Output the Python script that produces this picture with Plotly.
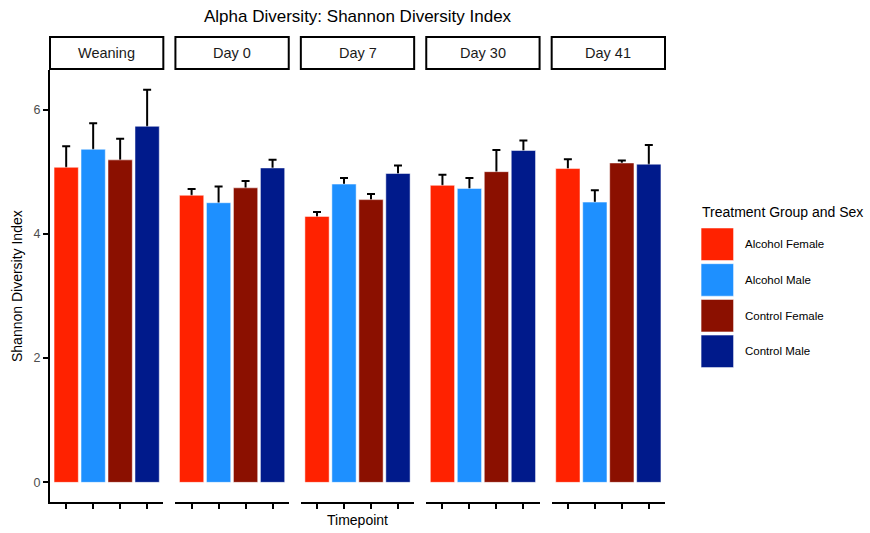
import plotly.graph_objects as go

# ---------------- data ----------------
timepoints = ["Weaning", "Day 0", "Day 7", "Day 30", "Day 41"]
groups = ["Alcohol Female", "Alcohol Male", "Control Female", "Control Male"]
colors = ["#FF2200", "#1E90FF", "#8B1000", "#001A8B"]

mean_alcohol_female = [5.07, 4.62, 4.28, 4.78, 5.05]
mean_alcohol_male = [5.36, 4.50, 4.80, 4.73, 4.51]
mean_control_female = [5.19, 4.74, 4.55, 5.00, 5.14]
mean_control_male = [5.73, 5.06, 4.97, 5.34, 5.12]

err_alcohol_female = [0.34, 0.10, 0.07, 0.17, 0.15]
err_alcohol_male = [0.42, 0.26, 0.10, 0.17, 0.19]
err_control_female = [0.34, 0.11, 0.09, 0.35, 0.04]
err_control_male = [0.59, 0.13, 0.13, 0.16, 0.31]

y_ticks = [0, 2, 4, 6]

means = [mean_alcohol_female, mean_alcohol_male, mean_control_female, mean_control_male]
errs = [err_alcohol_female, err_alcohol_male, err_control_female, err_control_male]

# ---------------- layout geometry (page px) ----------------
W, H = 870, 533
pitch, pwidth = 125.5, 113.4
PL, PT, PB = 50, 70, 502          # page px of plot area left / top / bottom
ML, MT = PL, PT
MB = H - PB
PW = 4 * pitch + pwidth
MR = W - ML - PW
PH = H - MT - MB
HIDE = 0.05  # error bar stem starts slightly inside the bar so its lower cap is hidden


def px_x(px):
    return (px - PL) / PW


def px_y(py):
    return (PB - py) / PH


FONT = "Liberation Sans, Arial, sans-serif"

fig = go.Figure()
layout = dict(
    width=W, height=H,
    margin=dict(l=ML, r=MR, t=MT, b=MB, autoexpand=False),
    plot_bgcolor="white", paper_bgcolor="white",
    showlegend=False,
    font=dict(family=FONT, color="black"),
    barmode="overlay",
)

shapes = []
annotations = []

for i, tp in enumerate(timepoints):
    sfx = "" if i == 0 else str(i + 1)
    xa = "x" + sfx
    ya = "y" + sfx
    d0 = (i * pitch) / PW
    d1 = min(1.0, (i * pitch + pwidth) / PW)
    # error bars (drawn beneath the bars, like the reference)
    for g in range(4):
        fig.add_trace(go.Bar(
            x=[g + 1], y=[means[g][i] - HIDE], width=0.9,
            marker=dict(color="rgba(0,0,0,0)", line=dict(width=0)),
            error_y=dict(type="data", symmetric=False, array=[errs[g][i] + HIDE],
                         arrayminus=[0], color="black", thickness=2, width=4),
            hoverinfo="skip", xaxis=xa, yaxis=ya,
        ))
    # bars
    for g in range(4):
        fig.add_trace(go.Bar(
            x=[g + 1], y=[means[g][i]], name=groups[g],
            width=0.9,
            marker=dict(color=colors[g], line=dict(color="white", width=0.5)),
            xaxis=xa, yaxis=ya,
        ))
    layout["xaxis" + sfx] = dict(
        domain=[d0, d1], anchor=ya, range=[0.4, 4.6],
        tickvals=[1, 2, 3, 4], showticklabels=False,
        ticks="outside", ticklen=5, tickwidth=1.5, tickcolor="black",
        showline=True, linecolor="black", linewidth=2,
        showgrid=False, zeroline=False, fixedrange=True,
    )
    layout["yaxis" + sfx] = dict(
        domain=[0, 1], anchor=xa, range=[-0.316, 6.636],
        tickvals=y_ticks, showticklabels=(i == 0),
        ticks="outside" if i == 0 else "", ticklen=5, tickwidth=1.5, tickcolor="black",
        tickfont=dict(size=12.5, color="#4D4D4D", family=FONT),
        showline=(i == 0), linecolor="black", linewidth=2,
        showgrid=False, zeroline=False, fixedrange=True,
    )
    # strip box
    shapes.append(dict(type="rect", xref="paper", yref="paper",
                       x0=d0, x1=d1, y0=px_y(69), y1=px_y(37),
                       line=dict(color="black", width=2), fillcolor="white"))
    annotations.append(dict(text=tp, xref="paper", yref="paper",
                            x=(d0 + d1) / 2, y=px_y(53), showarrow=False,
                            xanchor="center", yanchor="middle",
                            font=dict(size=14.5, color="#1A1A1A", family=FONT)))

# title
annotations.append(dict(text="Alpha Diversity: Shannon Diversity Index",
                        xref="paper", yref="paper", x=px_x(358), y=px_y(16),
                        showarrow=False, xanchor="center", yanchor="middle",
                        font=dict(size=17, color="black", family=FONT)))
# axis titles
annotations.append(dict(text="Timepoint", xref="paper", yref="paper",
                        x=px_x(358), y=px_y(520), showarrow=False,
                        xanchor="center", yanchor="middle",
                        font=dict(size=14, color="black", family=FONT)))
annotations.append(dict(text="Shannon Diversity Index", xref="paper", yref="paper",
                        x=px_x(17), y=px_y(286), showarrow=False, textangle=-90,
                        xanchor="center", yanchor="middle",
                        font=dict(size=14, color="black", family=FONT)))

# legend (manual, large keys)
annotations.append(dict(text="Treatment Group and Sex", xref="paper", yref="paper",
                        x=px_x(700), y=px_y(212), showarrow=False,
                        xanchor="left", yanchor="middle",
                        font=dict(size=14, color="black", family=FONT)))
for g in range(4):
    top = 228 + g * 35.7
    shapes.append(dict(type="rect", xref="paper", yref="paper",
                       x0=px_x(701.5), x1=px_x(734), y0=px_y(top + 32.5), y1=px_y(top),
                       line=dict(color="white", width=0.5), fillcolor=colors[g]))
    annotations.append(dict(text=groups[g], xref="paper", yref="paper",
                            x=px_x(743), y=px_y(top + 16.3), showarrow=False,
                            xanchor="left", yanchor="middle",
                            font=dict(size=11.5, color="black", family=FONT)))

layout["shapes"] = shapes
layout["annotations"] = annotations
fig.update_layout(**layout)
fig.write_html(
    "out.html",
    config={"displayModeBar": False},
    post_script="document.body.style.margin='0';document.body.style.overflow='hidden';",
)
